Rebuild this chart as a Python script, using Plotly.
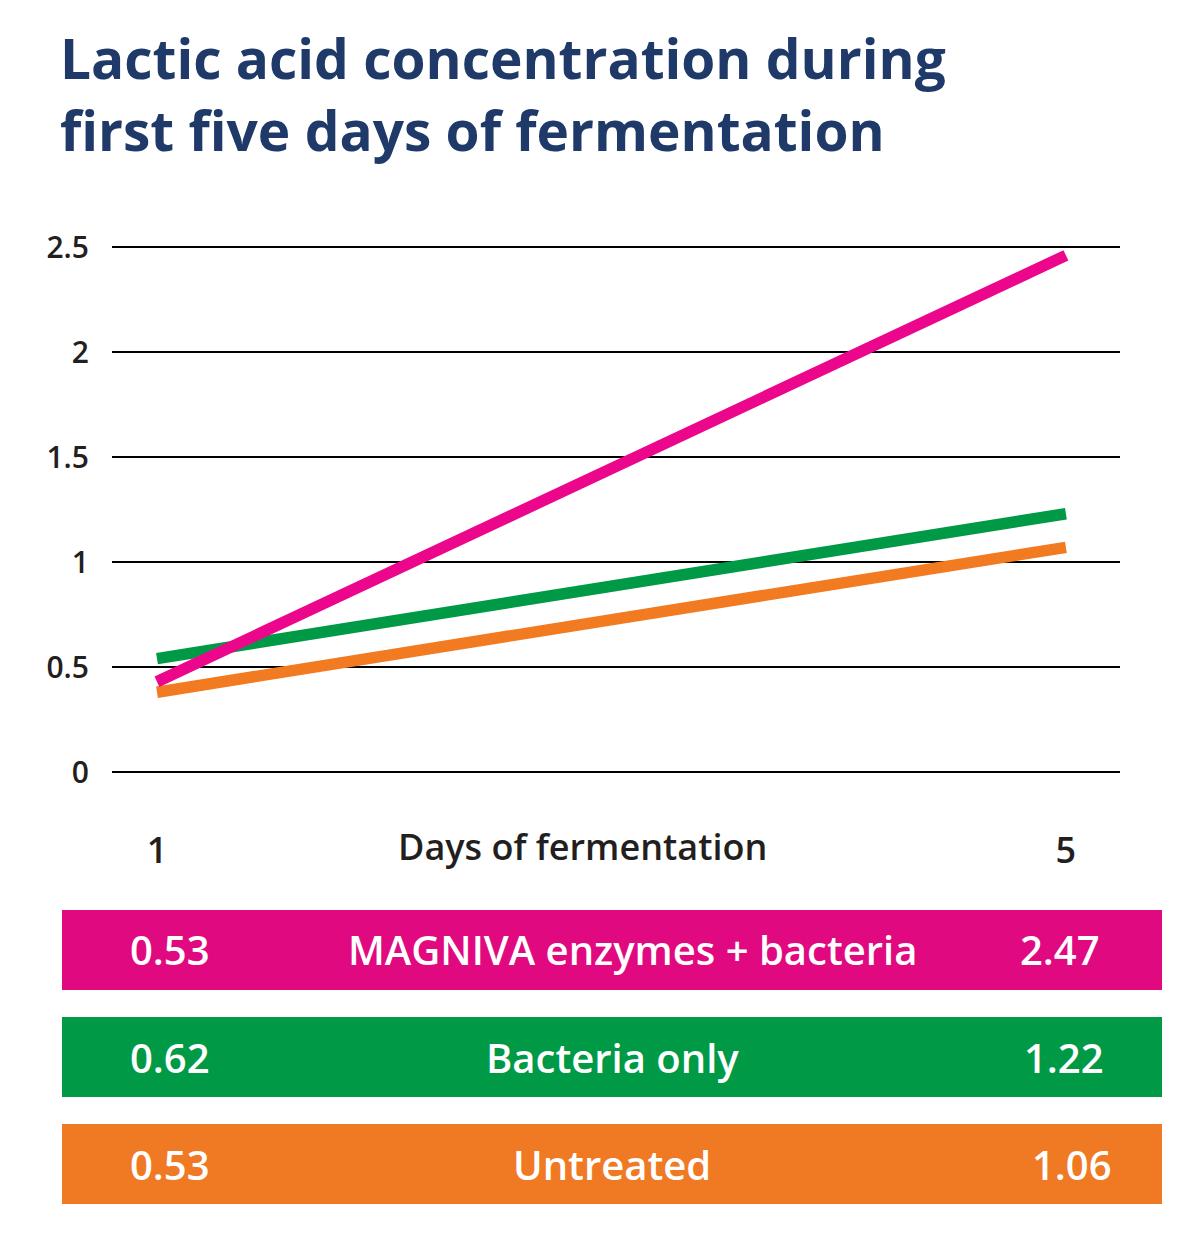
import plotly.graph_objects as go

# Days on the x axis
days = [1, 5]

# Line values as drawn in the chart
magniva_line = [0.43, 2.46]
bacteria_line = [0.54, 1.23]
untreated_line = [0.38, 1.07]

# Values printed in the coloured legend boxes
series_names = ["MAGNIVA enzymes + bacteria", "Bacteria only", "Untreated"]
day1_values = [0.53, 0.62, 0.53]
day5_values = [2.47, 1.22, 1.06]

line_colors = ["#EC068C", "#009A46", "#F27B22"]
box_colors = ["#E0097F", "#009A46", "#F07A24"]

# page body has an 8px margin, so the figure is drawn 8px in from the corner
OFF = 8
W, H = 1200 - OFF, 1248 - OFF
# plot area in page pixels
PL, PR, PT, PB = 112, 1120, 230, 790


def px_x(x):
    return (x - PL) / (PR - PL)


def px_y(y):
    return (PB - y) / (PB - PT)


fig = go.Figure()

# draw order: orange, green, pink on top
for name, ys, color in [
    (series_names[2], untreated_line, line_colors[2]),
    (series_names[1], bacteria_line, line_colors[1]),
    (series_names[0], magniva_line, line_colors[0]),
]:
    fig.add_trace(go.Scatter(
        x=days, y=ys, mode="lines", name=name,
        line=dict(color=color, width=11.5),
        showlegend=False,
        hoverinfo="x+y+name",
    ))

# legend boxes below the chart
box_tops = [910, 1017, 1124]
box_h = 80
name_centers = [632, 612, 612]
right_centers = [1060, 1064, 1072]
shapes = []
annotations = []
for i, name in enumerate(series_names):
    top = box_tops[i]
    shapes.append(dict(
        type="rect", xref="paper", yref="paper",
        x0=px_x(62), x1=px_x(1162), y0=px_y(top + box_h), y1=px_y(top),
        fillcolor=box_colors[i], line=dict(width=0), layer="above",
    ))
    yc = px_y(top + box_h / 2)
    for text, xc in [(f"{day1_values[i]:.2f}", 170),
                     (name, name_centers[i]),
                     (f"{day5_values[i]:.2f}", right_centers[i])]:
        annotations.append(dict(
            text=text, xref="paper", yref="paper", x=px_x(xc), y=yc,
            xanchor="center", yanchor="middle", showarrow=False,
            font=dict(family="Open Sans", size=40, color="white", weight=600),
        ))

annotations.append(dict(
    text="Days of fermentation", xref="paper", yref="paper",
    x=px_x(582), y=px_y(846), xanchor="center", yanchor="middle", showarrow=False,
    font=dict(family="Open Sans", size=36, color="#231F20", weight=600),
))

# title as a two-line annotation
annotations.append(dict(
    text="Lactic acid concentration during<br>first five days of fermentation",
    xref="paper", yref="paper", x=px_x(58), y=px_y(18),
    xanchor="left", yanchor="top", align="left", showarrow=False,
    font=dict(family="Open Sans", size=55, color="#1F3A68", weight=700),
))

fig.update_layout(
    width=W, height=H,
    paper_bgcolor="white", plot_bgcolor="white",
    margin=dict(l=PL - OFF, r=W - (PR - OFF), t=PT - OFF, b=H - (PB - OFF)),
    xaxis=dict(
        range=[0.802, 5.238], tickvals=days, ticktext=[str(d) for d in days],
        showgrid=False, zeroline=False, showline=False,
        ticklabelstandoff=36,
        tickfont=dict(family="Open Sans", size=36, color="#231F20", weight=600),
    ),
    yaxis=dict(
        range=[-0.0857, 2.581], tickvals=[0, 0.5, 1, 1.5, 2, 2.5],
        ticktext=["0", "0.5", "1", "1.5", "2", "2.5"],
        showgrid=True, gridcolor="black", gridwidth=2,
        zeroline=True, zerolinecolor="black", zerolinewidth=2,
        showline=False, ticklabelstandoff=22,
        tickfont=dict(family="Open Sans", size=30, color="#231F20", weight=600),
    ),
    shapes=shapes,
    annotations=annotations,
)

fig.write_html("out.html")
